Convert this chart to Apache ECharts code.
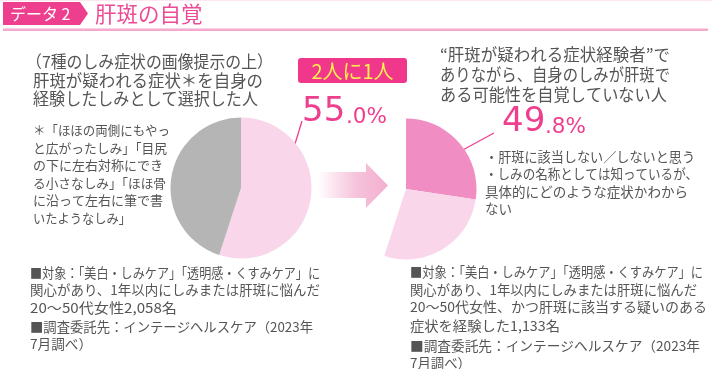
<!DOCTYPE html>
<html>
<head>
<meta charset="utf-8">
<script src="https://cdn.jsdelivr.net/npm/echarts@6/dist/echarts.min.js"></script>
<style>
html,body{margin:0;padding:0;background:#fff;}
#c{width:712px;height:369px;}
</style>
</head>
<body>
<div id="c"></div>
<script>
// ---- data ----
const categories = ['肝斑が疑われる症状を自身の経験として選択', 'それ以外'];
const experiencedShare = [55.0, 45.0];           // % of all respondents
const awarenessCategories = ['肝斑の可能性を自覚していない', 'その他'];
const unawareShare = [49.8, 50.2];               // % of experiencers
const sampleSizes = ['2,058', '1,133'];
const badgeText = '2人に1人';

const JP = '"Noto Sans CJK JP", "Noto Sans", sans-serif';
const NUM = '"DejaVu Sans", sans-serif';
const TXT = '#555555';
const PINK = '#ee3f8f';

const mctx = document.createElement('canvas').getContext('2d');
function T(text, x, y, size, color, right, family) {
  const font = size + 'px ' + (family || JP);
  let sx = 1;
  if (right) {
    mctx.font = font;
    const w = mctx.measureText(text).width;
    sx = (right - x) / w;
    sx = Math.max(0.8, Math.min(1.12, sx));
  }
  return {
    type: 'text', x: x, y: y, scaleX: sx, silent: true,
    style: { text: text, x: 0, y: 0, font: font, fill: color || TXT, textVerticalAlign: 'middle', textAlign: 'left' }
  };
}

const fmt = v => v.toFixed(1).split('.');
const left = fmt(experiencedShare[0]);
const right = fmt(unawareShare[0]);

const g = [];
// title bar
g.push({ type: 'polygon', silent: true, shape: { points: [[3,2],[80,2],[88,13.5],[80,25],[3,25]] }, style: { fill: PINK } });
g.push(T('データ 2', 10, 14, 16, '#ffffff'));
g.push(T('肝斑の自覚', 95, 14, 21.5, '#ee4b96'));
g.push({ type: 'rect', silent: true, shape: { x: 3, y: 28.5, width: 705, height: 2.5 }, style: { fill: '#f4a9cd' } });
g.push({ type: 'rect', silent: true, shape: { x: 0, y: 0, width: 712, height: 1 }, style: { fill: '#fde8f1' } });

// left header
g.push(T('（7種のしみ症状の画像提示の上）', 26, 62, 16.5, TXT, 273));
g.push(T('肝斑が疑われる症状＊を自身の', 33, 81, 16.5, TXT, 263));
g.push(T('経験したしみとして選択した人', 33, 99, 16.5, TXT, 258));
// note
const note = ['＊「ほほの両側にもやっ','と広がったしみ」「目尻','の下に左右対称にでき','る小さなしみ」「ほほ骨','に沿って左右に筆で書','いたようなしみ」'];
const noteR = [170, 167, 163, 166, 163, 131];
note.forEach((s, i) => g.push(T(s, 33, 130 + i * 17.6, 13, TXT, noteR[i])));

// bottom left
const bl = ['■対象：「美白・しみケア」「透明感・くすみケア」に','関心があり、1年以内にしみまたは肝斑に悩んだ','20～50代女性' + sampleSizes[0] + '名','■調査委託先：インテージヘルスケア（2023年','7月調べ）'];
const blR = [320, 320, 188, 313, 92];
const blY = [273, 290, 308, 327, 344];
bl.forEach((s, i) => g.push(T(s, 30, blY[i], 13.5, TXT, blR[i])));

// badge
g.push({ type: 'rect', silent: true, shape: { x: 298, y: 58, width: 109, height: 25, r: 3 }, style: { fill: '#f0378c' } });
g.push({ type: 'text', silent: true, x: 352.5, y: 71, style: { text: badgeText, font: '20px ' + JP, fill: '#fff04a', textAlign: 'center', textVerticalAlign: 'middle' } });

// big numbers
g.push(T(left[0], 302, 112.5, 34, PINK, null, NUM));
g.push(T('.' + left[1] + '%', 346, 117, 21.5, PINK, null, NUM));
g.push(T(right[0], 502, 122.5, 34, PINK, null, NUM));
g.push(T('.' + right[1] + '%', 545, 127, 21.5, PINK, null, NUM));

// leader lines
g.push({ type: 'line', silent: true, shape: { x1: 287, y1: 170, x2: 302, y2: 121 }, style: { stroke: PINK, lineWidth: 1.3 } });
g.push({ type: 'line', silent: true, shape: { x1: 448, y1: 158, x2: 494, y2: 133 }, style: { stroke: PINK, lineWidth: 1.3 } });

// arrow
g.push({ type: 'polygon', silent: true,
  shape: { points: [[318,172],[366,172],[366,163],[388,185.5],[366,208],[366,198],[318,198]] },
  style: { fill: new echarts.graphic.LinearGradient(0, 0, 1, 0, [
    { offset: 0, color: 'rgba(246,190,216,0)' },
    { offset: 0.55, color: '#f6c3db' },
    { offset: 1, color: '#f3aecf' }]) } });

// right header
g.push(T('“肝斑が疑われる症状経験者”で', 440, 55, 16.5, TXT, 670));
g.push(T('ありながら、自身のしみが肝斑で', 440, 75, 16.5, TXT, 670));
g.push(T('ある可能性を自覚していない人', 440, 95, 16.5, TXT, 667));
// bullets
const bu = ['・肝斑に該当しない／しないと思う','・しみの名称としては知っているが、','具体的にどのような症状かわから','ない'];
const buR = [695, 698, 688, 512];
bu.forEach((s, i) => g.push(T(s, 485, 157 + i * 17.2, 13.5, TXT, buR[i])));

// bottom right
const br = ['■対象：「美白・しみケア」「透明感・くすみケア」に','関心があり、1年以内にしみまたは肝斑に悩んだ','20～50代女性、かつ肝斑に該当する疑いのある','症状を経験した' + sampleSizes[1] + '名','■調査委託先：インテージヘルスケア（2023年','7月調べ）'];
const brR = [703, 697, 707, 560, 700, 471];
const brY = [272, 290, 307, 326, 346, 363];
br.forEach((s, i) => g.push(T(s, 410, brY[i], 13.5, TXT, brR[i])));

const chart = echarts.init(document.getElementById('c'), null, { renderer: 'canvas' });
const pieBase = { type: 'pie', radius: 70.5, startAngle: 90, clockwise: true, silent: true,
  label: { show: false }, labelLine: { show: false }, emphasis: { disabled: true }, avoidLabelOverlap: false };
chart.setOption({
  animation: false,
  series: [
    Object.assign({}, pieBase, { center: [241, 188],
      data: [
        { name: categories[0], value: experiencedShare[0], itemStyle: { color: '#fad6ea' } },
        { name: categories[1], value: experiencedShare[1], itemStyle: { color: '#b5b5b5' } }
      ] }),
    Object.assign({}, pieBase, { center: [406, 189],
      data: [
        { name: awarenessCategories[0], value: experiencedShare[0] * unawareShare[0] / 100, itemStyle: { color: '#f08dc2' } },
        { name: awarenessCategories[1], value: experiencedShare[0] * unawareShare[1] / 100, itemStyle: { color: '#fad6ea' } },
        { name: categories[1], value: experiencedShare[1], itemStyle: { color: 'rgba(0,0,0,0)' } }
      ] })
  ],
  graphic: { elements: g }
});
</script>
</body>
</html>
